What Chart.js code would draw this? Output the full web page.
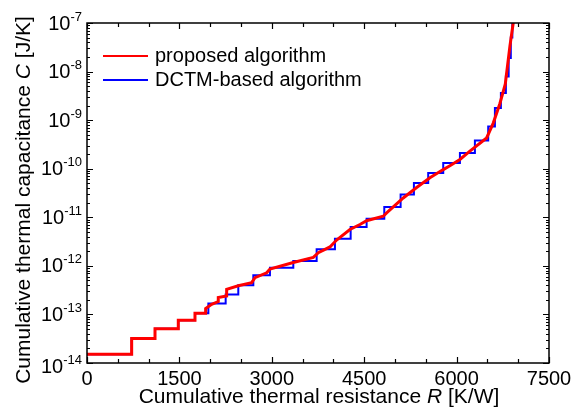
<!DOCTYPE html>
<html>
<head>
<meta charset="utf-8">
<script src="https://cdn.jsdelivr.net/npm/chart.js@4"></script>
<style>
  body { margin: 0; background: #fff; }
  #wrap { width: 580px; height: 416px; }
</style>
</head>
<body>
<div id="wrap"><canvas id="myChart" width="580" height="416"></canvas></div>
<script>
// DCTM-based algorithm: step start R [K/W] and level C [J/K]
const blueR = [0, 725, 1104, 1482, 1753, 1970, 2251, 2456, 2700, 2970, 3349, 3728, 4025, 4280, 4539,
  4826, 5091, 5307, 5539, 5783, 6054, 6297, 6513, 6622, 6719, 6800, 6845, 6880, 6905];
const blueC = [1.52e-14, 3.2e-14, 5.1e-14, 7.6e-14, 1.06e-13, 1.67e-13, 2.57e-13, 4.0e-13, 6.4e-13, 9.1e-13,
  1.26e-12, 2.2e-12, 3.6e-12, 6.3e-12, 9.3e-12, 1.62e-11, 2.95e-11, 5.1e-11, 8.2e-11, 1.31e-10,
  2.1e-10, 3.8e-10, 7.4e-10, 1.78e-9, 3.6e-9, 7.9e-9, 1.9e-8, 5.0e-8, 1.5e-7];

// proposed algorithm
const redR = [0, 725, 725, 1104, 1104, 1482, 1482, 1753, 1753, 1926, 1926, 2024, 2131, 2131, 2267, 2267,
  2456, 2673, 2727, 2917, 2970, 3349, 3674, 3755, 3944, 4052, 4268, 4431, 4539, 4809, 4864, 5134,
  5351, 5567, 5783, 5891, 6054, 6216, 6487, 6595, 6703, 6790, 6865, 6919, 6935];
const redC = [1.52e-14, 1.52e-14, 3.2e-14, 3.2e-14, 5.1e-14, 5.1e-14, 7.6e-14, 7.6e-14, 1.06e-13, 1.06e-13,
  1.32e-13, 1.62e-13, 1.84e-13, 2.24e-13, 2.4e-13, 3.3e-13, 3.9e-13, 4.5e-13, 5.7e-13, 7.2e-13, 8.6e-13,
  1.17e-12, 1.49e-12, 1.86e-12, 2.45e-12, 3.4e-12, 5.6e-12, 7.1e-12, 8.5e-12, 1.05e-11, 1.23e-11, 2.5e-11,
  4.1e-11, 6.5e-11, 9.6e-11, 1.15e-10, 1.55e-10, 2.3e-10, 4.3e-10, 8.7e-10, 2.2e-9, 5.5e-9, 3.3e-8, 1.0e-7, 1.4e-7];

const xTicks = [0, 1500, 3000, 4500, 6000, 7500];
const xMinorStep = 500;
const yExponents = [-14, -13, -12, -11, -10, -9, -8, -7];
const xTitle = ['Cumulative thermal resistance ', 'R', ' [K/W]'];
const yTitle = ['Cumulative thermal capacitance ', 'C', ' [J/K]'];

const FONT = '"Liberation Sans", Arial, sans-serif';

const toPoints = (xs, ys) => xs.map((x, i) => ({ x: x, y: ys[i] }));

// draws frame, inward ticks, labels, titles and legend
const framePlugin = {
  id: 'frame',
  afterDraw(chart) {
    const ctx = chart.ctx;
    const a = chart.chartArea;
    const xs = chart.scales.x, ys = chart.scales.y;
    ctx.save();
    ctx.strokeStyle = '#000';
    ctx.fillStyle = '#000';
    ctx.lineWidth = 1.5;
    ctx.strokeRect(a.left, a.top, a.right - a.left, a.bottom - a.top);

    // x ticks
    ctx.lineWidth = 1.2;
    for (let v = xTicks[0]; v <= xTicks[xTicks.length - 1]; v += xMinorStep) {
      const px = Math.round(xs.getPixelForValue(v)) + 0.5;
      const len = xTicks.includes(v) ? 6 : 4;
      ctx.beginPath();
      ctx.moveTo(px, a.bottom); ctx.lineTo(px, a.bottom - len);
      ctx.moveTo(px, a.top); ctx.lineTo(px, a.top + len);
      ctx.stroke();
    }
    // y ticks
    for (let i = 0; i < yExponents.length; i++) {
      const e = yExponents[i];
      const last = i === yExponents.length - 1;
      for (let m = 1; m <= (last ? 1 : 9); m++) {
        const py = Math.round(ys.getPixelForValue(m * Math.pow(10, e))) + 0.5;
        const len = m === 1 ? 6 : 3;
        ctx.beginPath();
        ctx.moveTo(a.left, py); ctx.lineTo(a.left + len, py);
        ctx.moveTo(a.right, py); ctx.lineTo(a.right - len, py);
        ctx.stroke();
      }
    }

    // x tick labels
    ctx.font = '20px ' + FONT;
    ctx.textAlign = 'center';
    ctx.textBaseline = 'middle';
    xTicks.forEach(v => {
      ctx.fillText(String(v), xs.getPixelForValue(v), a.bottom + 16);
    });

    // y tick labels 10^e
    yExponents.forEach((e, i) => {
      const py = ys.getPixelForValue(Math.pow(10, e)) + (i === 0 ? -3 + 6 : 0);
      ctx.font = '13px ' + FONT;
      const expTxt = String(e);
      const ew = ctx.measureText(expTxt).width;
      ctx.textAlign = 'left';
      ctx.textBaseline = 'middle';
      const right = a.left - 5;
      ctx.fillText(expTxt, right - ew, py - 6);
      ctx.font = '20px ' + FONT;
      ctx.textAlign = 'right';
      ctx.fillText('10', right - ew, py + 1);
    });

    // mixed-style titles
    const drawTitle = (parts, cx, cy) => {
      const fonts = ['21px ' + FONT, 'italic 21px ' + FONT, '21px ' + FONT];
      let total = 0;
      const widths = parts.map((p, i) => { ctx.font = fonts[i]; const w = ctx.measureText(p).width; total += w; return w; });
      let x = cx - total / 2;
      ctx.textAlign = 'left';
      ctx.textBaseline = 'middle';
      parts.forEach((p, i) => { ctx.font = fonts[i]; ctx.fillText(p, x, cy); x += widths[i]; });
    };
    drawTitle(xTitle, 319, 397);
    ctx.save();
    ctx.translate(24, 200);
    ctx.rotate(-Math.PI / 2);
    drawTitle(yTitle, 0, 0);
    ctx.restore();

    // legend inside plot
    const sets = chart.data.datasets;
    sets.forEach((ds, i) => {
      const y = 56 + i * 24;
      ctx.strokeStyle = ds.borderColor;
      ctx.lineWidth = 2;
      ctx.beginPath();
      ctx.moveTo(103, y); ctx.lineTo(148, y);
      ctx.stroke();
      ctx.font = '20px ' + FONT;
      ctx.textAlign = 'left';
      ctx.textBaseline = 'middle';
      ctx.fillStyle = '#000';
      ctx.fillText(ds.label, 155, y);
    });
    ctx.restore();
  }
};

const ctx = document.getElementById('myChart').getContext('2d');
const myChart = new Chart(ctx, {
  type: 'line',
  data: {
    datasets: [{
      label: 'proposed algorithm',
      data: toPoints(redR, redC),
      borderColor: '#ff0000',
      borderWidth: 3,
      tension: 0,
      pointRadius: 0,
      fill: false
    }, {
      label: 'DCTM-based algorithm',
      data: toPoints(blueR, blueC),
      borderColor: '#0000ff',
      borderWidth: 2,
      stepped: true,
      pointRadius: 0,
      fill: false
    }]
  },
  options: {
    responsive: false,
    maintainAspectRatio: false,
    animation: false,
    layout: { padding: { left: 87, right: 31, top: 23, bottom: 53 } },
    plugins: { legend: { display: false }, tooltip: { enabled: false } },
    scales: {
      x: { type: 'linear', min: 0, max: 7500, display: false },
      y: { type: 'logarithmic', min: 1e-14, max: 1e-7, display: false }
    }
  },
  plugins: [framePlugin]
});
</script>
</body>
</html>
